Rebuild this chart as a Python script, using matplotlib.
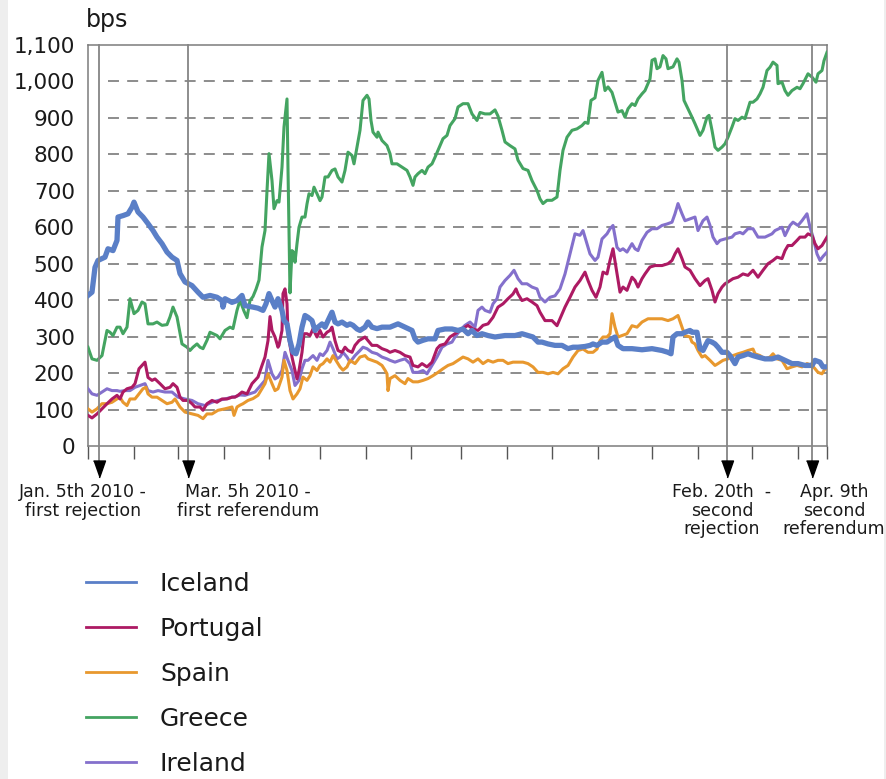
import matplotlib
matplotlib.use("Agg")
import matplotlib.pyplot as plt
from matplotlib.lines import Line2D
from matplotlib.patches import Rectangle

plt.rcParams['font.family'] = ['DejaVu Sans']
plt.rcParams['lines.scale_dashes'] = False

# ---------------- data (x = position along the time axis, y = spread in bps) ----------------
iceland_t = [0, 4, 7, 10, 17, 20, 25, 29, 30, 35, 40, 44, 46, 50, 55, 60, 65, 69, 74, 79, 84, 89, 92, 97, 104, 110, 115, 122, 129, 134, 135, 137, 144, 149, 154, 157, 165, 170, 175, 178, 181, 184, 187, 190, 194, 196, 199, 202, 205, 208, 211, 214, 217, 220, 224, 227, 230, 234, 237, 240, 244, 247, 250, 254, 259, 262, 265, 269, 272, 277, 280, 284, 289, 294, 302, 310, 317, 324, 327, 330, 335, 340, 347, 350, 357, 364, 370, 375, 380, 384, 389, 394, 400, 407, 417, 427, 434, 440, 445, 450, 454, 460, 467, 474, 480, 485, 490, 497, 502, 505, 509, 514, 519, 524, 527, 530, 535, 544, 554, 564, 574, 580, 583, 585, 589, 594, 597, 602, 604, 609, 612, 615, 620, 624, 627, 630, 634, 639, 642, 647, 650, 655, 660, 665, 670, 677, 684, 690, 697, 704, 710, 717, 724, 727, 732, 735, 739]
iceland_v = [413, 422, 490, 509, 518, 541, 536, 564, 628, 632, 637, 655, 669, 642, 628, 610, 591, 573, 555, 532, 518, 509, 473, 450, 440, 422, 408, 413, 408, 399, 381, 404, 394, 399, 413, 385, 381, 378, 372, 390, 418, 399, 381, 404, 372, 344, 335, 289, 257, 253, 280, 326, 358, 353, 344, 317, 326, 335, 326, 344, 367, 340, 335, 340, 331, 335, 331, 321, 317, 326, 340, 326, 322, 326, 326, 335, 326, 317, 294, 285, 290, 294, 294, 317, 321, 321, 317, 321, 308, 317, 303, 308, 303, 299, 303, 303, 308, 303, 299, 285, 285, 280, 276, 276, 267, 271, 271, 273, 276, 280, 276, 285, 285, 294, 299, 276, 267, 267, 264, 267, 262, 257, 253, 299, 308, 308, 312, 317, 312, 312, 267, 262, 289, 285, 280, 271, 257, 257, 248, 226, 244, 248, 253, 248, 244, 239, 239, 244, 235, 226, 226, 221, 221, 235, 230, 217, 217]

portugal_t = [0, 4, 9, 14, 19, 24, 29, 32, 35, 39, 44, 47, 51, 54, 57, 60, 64, 67, 72, 77, 82, 85, 89, 92, 95, 100, 104, 107, 112, 115, 119, 124, 129, 134, 139, 144, 147, 150, 154, 159, 164, 167, 170, 174, 177, 180, 182, 184, 187, 190, 191, 194, 195, 197, 199, 200, 204, 207, 209, 211, 214, 216, 219, 222, 225, 229, 232, 235, 239, 242, 244, 247, 250, 254, 257, 260, 264, 267, 271, 274, 277, 280, 284, 289, 294, 299, 302, 307, 312, 317, 322, 325, 330, 334, 339, 344, 349, 352, 357, 362, 367, 372, 377, 380, 385, 390, 395, 400, 405, 410, 415, 420, 425, 428, 430, 434, 439, 444, 449, 452, 457, 464, 469, 472, 477, 482, 487, 492, 497, 500, 504, 508, 512, 515, 519, 522, 525, 529, 532, 535, 539, 544, 547, 550, 554, 557, 562, 567, 574, 580, 584, 587, 590, 594, 597, 602, 607, 612, 617, 620, 624, 627, 630, 634, 637, 640, 645, 650, 655, 660, 665, 670, 675, 680, 685, 689, 694, 697, 700, 704, 709, 712, 717, 720, 724, 727, 730, 734, 739]
portugal_v = [84, 77, 88, 102, 116, 129, 139, 129, 148, 157, 161, 171, 212, 221, 230, 188, 180, 184, 171, 157, 161, 171, 161, 134, 125, 125, 116, 107, 107, 98, 116, 125, 120, 129, 129, 134, 134, 139, 148, 143, 171, 180, 189, 221, 244, 289, 355, 317, 299, 271, 276, 317, 418, 431, 390, 308, 244, 207, 184, 207, 257, 308, 308, 303, 321, 299, 317, 299, 312, 317, 326, 289, 262, 257, 271, 262, 257, 276, 289, 294, 299, 289, 276, 276, 267, 262, 257, 262, 257, 248, 244, 221, 217, 226, 217, 230, 267, 276, 280, 299, 308, 317, 326, 331, 321, 317, 331, 335, 353, 381, 390, 404, 417, 431, 417, 399, 404, 395, 385, 367, 344, 344, 330, 349, 381, 408, 436, 454, 477, 454, 427, 408, 436, 477, 472, 509, 541, 472, 422, 436, 427, 463, 454, 436, 459, 472, 491, 495, 495, 500, 509, 527, 541, 514, 491, 482, 459, 440, 454, 459, 427, 395, 418, 436, 445, 450, 459, 463, 472, 468, 482, 463, 482, 500, 509, 518, 514, 536, 550, 550, 564, 573, 573, 582, 577, 555, 541, 550, 573]

spain_t = [0, 4, 9, 14, 19, 24, 29, 32, 35, 39, 42, 47, 51, 55, 58, 60, 64, 69, 74, 79, 84, 87, 92, 97, 104, 110, 115, 119, 124, 130, 137, 144, 146, 149, 152, 155, 160, 165, 170, 174, 177, 180, 184, 187, 190, 194, 196, 199, 202, 205, 209, 212, 215, 219, 222, 225, 229, 232, 235, 239, 242, 245, 249, 252, 255, 259, 262, 267, 272, 277, 280, 284, 289, 294, 297, 299, 300, 302, 307, 312, 317, 320, 325, 330, 335, 340, 345, 350, 355, 360, 365, 370, 375, 380, 385, 390, 395, 400, 405, 410, 415, 420, 425, 430, 435, 440, 445, 450, 455, 460, 465, 470, 475, 480, 485, 490, 495, 500, 505, 509, 512, 515, 519, 522, 524, 527, 530, 534, 539, 544, 549, 554, 560, 567, 574, 580, 585, 590, 594, 597, 602, 604, 607, 610, 614, 617, 622, 627, 630, 635, 640, 645, 650, 655, 660, 665, 667, 672, 677, 682, 685, 689, 694, 699, 704, 709, 714, 719, 724, 727, 730, 734, 737, 739]
spain_v = [102, 93, 102, 116, 116, 120, 129, 134, 120, 111, 129, 129, 143, 157, 161, 143, 134, 134, 125, 116, 120, 129, 107, 93, 88, 84, 75, 88, 88, 98, 102, 107, 84, 107, 112, 116, 125, 130, 139, 157, 171, 198, 171, 152, 157, 189, 235, 207, 152, 129, 143, 157, 189, 180, 193, 217, 207, 221, 226, 239, 230, 248, 230, 217, 208, 217, 235, 226, 244, 248, 239, 235, 230, 221, 208, 198, 152, 185, 193, 180, 171, 185, 176, 176, 180, 185, 193, 202, 212, 221, 226, 235, 244, 239, 230, 239, 226, 235, 230, 235, 235, 226, 230, 230, 230, 226, 217, 202, 202, 198, 202, 198, 212, 221, 244, 262, 266, 257, 257, 266, 289, 299, 299, 308, 363, 326, 299, 303, 308, 330, 326, 340, 349, 349, 349, 344, 349, 358, 326, 303, 299, 285, 280, 262, 244, 248, 235, 221, 226, 235, 239, 248, 253, 257, 262, 266, 253, 248, 239, 244, 253, 239, 235, 212, 217, 221, 217, 226, 221, 212, 202, 198, 212, 212]

greece_t = [0, 4, 9, 14, 19, 22, 25, 29, 32, 35, 39, 42, 46, 50, 54, 57, 60, 65, 69, 74, 79, 82, 85, 89, 94, 99, 102, 105, 109, 112, 115, 119, 122, 125, 129, 132, 137, 142, 145, 149, 152, 156, 159, 162, 165, 168, 171, 174, 177, 179, 181, 184, 186, 189, 191, 194, 196, 199, 200, 202, 204, 206, 207, 209, 211, 214, 217, 219, 221, 224, 226, 229, 232, 234, 237, 240, 244, 247, 250, 254, 257, 260, 264, 266, 269, 272, 275, 279, 281, 283, 285, 289, 290, 294, 299, 302, 304, 309, 314, 319, 322, 325, 327, 330, 334, 337, 340, 344, 347, 350, 355, 359, 362, 367, 370, 375, 380, 384, 389, 392, 397, 402, 407, 410, 414, 417, 422, 427, 430, 435, 440, 444, 449, 452, 455, 459, 464, 469, 472, 475, 479, 484, 489, 494, 497, 500, 503, 507, 510, 514, 517, 520, 524, 527, 530, 534, 537, 540, 544, 547, 550, 554, 557, 562, 564, 567, 569, 572, 575, 578, 580, 585, 589, 591, 594, 596, 600, 604, 607, 612, 615, 619, 621, 624, 627, 630, 634, 637, 640, 644, 647, 650, 654, 657, 662, 665, 669, 672, 675, 679, 682, 685, 689, 690, 694, 697, 700, 704, 709, 712, 715, 720, 724, 728, 730, 734, 736, 739]
greece_v = [271, 239, 235, 248, 317, 312, 303, 326, 326, 308, 326, 404, 363, 372, 395, 390, 335, 335, 340, 331, 333, 354, 381, 354, 280, 271, 262, 271, 280, 271, 267, 290, 312, 308, 303, 294, 317, 326, 322, 372, 400, 370, 352, 399, 410, 430, 455, 546, 591, 700, 802, 728, 651, 673, 669, 765, 875, 952, 760, 420, 536, 530, 504, 555, 600, 628, 628, 664, 692, 687, 710, 692, 673, 683, 738, 738, 756, 760, 738, 724, 756, 806, 797, 774, 820, 866, 948, 962, 952, 893, 861, 847, 861, 838, 824, 802, 774, 774, 765, 756, 738, 715, 738, 747, 756, 747, 765, 774, 792, 811, 843, 852, 879, 898, 930, 939, 939, 911, 893, 915, 911, 911, 922, 905, 866, 834, 824, 815, 784, 761, 756, 728, 701, 678, 665, 674, 674, 683, 756, 811, 847, 866, 870, 879, 888, 885, 948, 955, 1003, 1025, 975, 985, 970, 943, 916, 920, 902, 925, 939, 934, 952, 966, 975, 1007, 1058, 1062, 1035, 1040, 1071, 1062, 1035, 1040, 1062, 1053, 1003, 948, 925, 902, 884, 852, 866, 902, 907, 866, 820, 811, 820, 829, 847, 875, 898, 893, 902, 898, 943, 943, 952, 966, 984, 1030, 1039, 1053, 1044, 994, 998, 975, 962, 975, 984, 980, 994, 1021, 1012, 998, 1021, 1030, 1057, 1080]

ireland_t = [0, 4, 9, 14, 19, 24, 29, 32, 37, 42, 47, 52, 57, 60, 65, 70, 77, 84, 90, 97, 104, 110, 117, 124, 130, 137, 144, 147, 152, 157, 167, 177, 180, 184, 187, 190, 194, 197, 200, 204, 207, 211, 214, 217, 220, 225, 229, 232, 235, 239, 242, 245, 249, 252, 255, 259, 262, 267, 272, 275, 279, 284, 289, 294, 299, 302, 307, 312, 317, 322, 325, 330, 335, 339, 344, 349, 354, 359, 364, 367, 372, 377, 382, 387, 390, 394, 397, 402, 405, 409, 412, 417, 422, 426, 430, 434, 439, 444, 449, 452, 457, 462, 467, 472, 477, 482, 487, 492, 495, 499, 502, 507, 510, 514, 519, 522, 525, 529, 532, 535, 539, 544, 547, 550, 554, 559, 564, 569, 574, 579, 584, 587, 590, 594, 597, 602, 607, 610, 615, 619, 622, 625, 629, 632, 637, 644, 647, 652, 655, 660, 665, 670, 677, 684, 687, 694, 697, 702, 705, 710, 714, 719, 722, 725, 729, 732, 735, 739]
ireland_v = [157, 143, 139, 148, 157, 152, 152, 150, 152, 152, 161, 166, 171, 152, 148, 152, 148, 148, 134, 129, 125, 116, 111, 120, 125, 129, 134, 135, 140, 139, 148, 180, 235, 198, 184, 189, 207, 257, 235, 207, 166, 180, 212, 235, 235, 248, 235, 253, 248, 262, 285, 267, 239, 244, 257, 244, 230, 248, 262, 271, 267, 257, 253, 244, 239, 235, 230, 235, 239, 226, 202, 202, 207, 198, 221, 244, 271, 280, 285, 299, 317, 331, 340, 326, 372, 381, 372, 367, 390, 404, 436, 454, 468, 482, 459, 445, 445, 436, 431, 408, 395, 408, 412, 431, 472, 527, 582, 578, 591, 555, 527, 509, 518, 568, 582, 596, 605, 545, 536, 541, 532, 555, 541, 536, 564, 586, 596, 596, 605, 609, 614, 637, 665, 637, 618, 623, 628, 591, 618, 628, 605, 573, 555, 564, 568, 573, 582, 586, 582, 596, 596, 573, 573, 582, 591, 600, 577, 605, 614, 605, 618, 637, 600, 573, 527, 509, 520, 532]

countries = ["Iceland", "Portugal", "Spain", "Greece", "Ireland"]
colors = {"Iceland": "#5a7fc7", "Portugal": "#ad1a63", "Spain": "#e8982e",
          "Greece": "#44a461", "Ireland": "#8470cc"}

y_ticks = [0, 100, 200, 300, 400, 500, 600, 700, 800, 900, 1000, 1100]
month_ticks = [0, 46, 90, 136, 181, 232, 278, 323, 373, 419, 464, 510, 564, 610, 664, 710, 739]
event_t = [11, 100, 639, 724]
event_labels = ["Jan. 5th 2010 -\nfirst rejection",
                "Mar. 5h 2010 -\nfirst referendum",
                "Feb. 20th  -\nsecond\nrejection",
                "Apr. 9th\nsecond\nreferendum"]

# ---------------- figure ----------------
W, H = 887, 779
fig = plt.figure(figsize=(W / 100, H / 100), dpi=100)
fig.patch.set_facecolor("white")
fx = lambda px: px / W
fy = lambda py: 1 - py / H

fig.patches.append(Rectangle((0, 0), fx(8), 1, transform=fig.transFigure,
                             facecolor="#eeeeee", edgecolor="none", zorder=-10))
fig.patches.append(Rectangle((fx(884), 0), fx(3), 1, transform=fig.transFigure,
                             facecolor="#eeeeee", edgecolor="none", zorder=-10))

ax = fig.add_axes([fx(88), fy(446), fx(827) - fx(88), (446 - 45) / H])
ax.set_xlim(0, 739)
ax.set_ylim(0, 1100)

# dashed grid
for v in y_ticks[1:-1]:
    ax.hlines(v, 19.7, 739, colors="#6e6e6e", linewidth=1.1,
              linestyles=(0, (7.9, 5.9)), zorder=1)

# spines / ticks
for s in ax.spines.values():
    s.set_color("#7c7c7c")
    s.set_linewidth(1.1)
ax.set_yticks(y_ticks)
ax.set_yticklabels([f"{v:,}" for v in y_ticks])
ax.tick_params(axis="y", length=0, pad=9.5, labelsize=15.5, labelcolor="#1a1a1a")
ax.set_xticks(month_ticks)
ax.set_xticklabels([])
ax.tick_params(axis="x", length=9.5, width=1.0, color="#555555", direction="out")

# series
series = {
    "Greece": (greece_t, greece_v, 2.2),
    "Ireland": (ireland_t, ireland_v, 2.2),
    "Spain": (spain_t, spain_v, 2.2),
    "Portugal": (portugal_t, portugal_v, 2.2),
    "Iceland": (iceland_t, iceland_v, 3.8),
}
for z, (name, (t, v, lw)) in enumerate(series.items()):
    ax.plot(t, v, color=colors[name], linewidth=lw, solid_joinstyle="round",
            zorder=3 + z)

# event lines with arrows
arrow = [(-6, 8.5), (6, 8.5), (0, -8.5)]
for t in event_t:
    ax.plot([t, t], [-42, 1100], color="#858585", linewidth=1.3, clip_on=False, zorder=10)
    ax.plot([t], [-63], marker=arrow, markersize=12.2, color="black",
            linestyle="none", clip_on=False, zorder=11)

# event labels
label_px = [83, 248, 722, 834]
for x, txt in zip(label_px, event_labels):
    fig.text(fx(x), fy(483), txt, ha="center", va="top", multialignment="center",
             fontsize=12.5, color="#1a1a1a", linespacing=1.05)

# unit label
fig.text(fx(86), fy(27), "bps", fontsize=17, color="#1a1a1a", va="baseline")

# legend
for i, name in enumerate(countries):
    yl = 582 + 45.0 * i
    fig.add_artist(Line2D([fx(86), fx(136)], [fy(yl), fy(yl)], color=colors[name],
                          linewidth=2.0, transform=fig.transFigure))
    fig.text(fx(160), fy(yl + 9.0), name, fontsize=18, color="#1a1a1a", va="baseline")

fig.savefig("out.png", dpi=100)
